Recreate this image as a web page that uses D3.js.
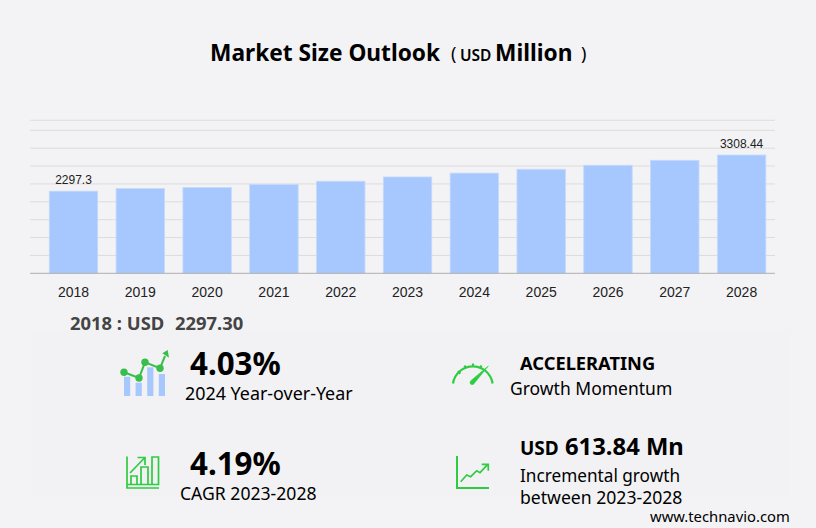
<!DOCTYPE html>
<html lang="en">
<head>
    <meta charset="UTF-8">
    <title>Market Size Outlook</title>
    <script src="https://d3js.org/d3.v7.min.js"></script>
    <style>
        html, body {
            margin: 0;
            padding: 0;
            background: #f3f3f5;
        }
        svg {
            display: block;
        }
        text {
            font-family: "Noto Sans", sans-serif;
            fill: #000;
        }
        .axis-label, .bar-label {
            font-family: "Liberation Sans", Arial, sans-serif;
            fill: #222;
        }
        .icon {
            fill: none;
            stroke: #2ecc40;
        }
    </style>
</head>
<body>
    <svg id="chart" width="816" height="528"></svg>

    <script>
        var years = ["2018", "2019", "2020", "2021", "2022", "2023", "2024", "2025", "2026", "2027", "2028"];
        var marketSize = [2297.3, 2372, 2400, 2483, 2575, 2694.6, 2803, 2910, 3022, 3161, 3308.44];
        var gridValues = [500, 1000, 1500, 2000, 2500, 3000, 3500, 4000, 4280];
        var labelledYears = ["2018", "2028"];

        var svg = d3.select("#chart");

        var x = d3.scaleBand().domain(years).range([40.1, 775]).paddingInner(0.275).paddingOuter(0.1375);
        var y = d3.scaleLinear().domain([0, 4280]).range([273.3, 120.3]);

        // light panel behind the kpis
        svg.append("rect").attr("x", 32).attr("y", 330).attr("width", 758).attr("height", 167).attr("fill", "#f2f2f4");

        function label(x0, y0, size, weight, str) {
            return svg.append("text").attr("x", x0).attr("y", y0).attr("font-size", size).attr("font-weight", weight).text(str);
        }

        // title
        label(210, 61, 22.7, 700, "Market Size Outlook");
        label(451, 60, 18, 400, "(");
        label(460, 60.5, 15.5, 600, "USD");
        label(495, 61, 22.7, 700, "Million");
        label(581, 60, 18, 400, ")");

        // grid
        svg.append("g").selectAll("line")
            .data(gridValues)
            .enter().append("line")
            .attr("x1", 30)
            .attr("x2", 775)
            .attr("y1", function(d) { return y(d); })
            .attr("y2", function(d) { return y(d); })
            .attr("stroke", "#dcdcde");

        // bars
        svg.append("g").selectAll("rect")
            .data(marketSize)
            .enter().append("rect")
            .attr("x", function(d, i) { return x(years[i]); })
            .attr("y", function(d) { return y(d); })
            .attr("width", x.bandwidth())
            .attr("height", function(d) { return y(0) - y(d); })
            .attr("fill", "#a6c8ff")
            .attr("stroke", "#c5d9fb")
            .attr("stroke-width", 0.8);

        // x axis
        var xAxis = svg.append("g")
            .attr("transform", "translate(0," + y(0) + ")")
            .call(d3.axisBottom(x).tickSize(0).tickPadding(10));
        xAxis.select(".domain").remove();
        xAxis.selectAll("text").attr("class", "axis-label").attr("font-size", 14).attr("dy", "0.95em");
        svg.append("line").attr("x1", 30).attr("x2", 775).attr("y1", y(0)).attr("y2", y(0)).attr("stroke", "#b0b0b0");

        // first and last labels
        svg.append("g").selectAll("text")
            .data(labelledYears)
            .enter().append("text")
            .attr("class", "bar-label")
            .attr("x", function(d) { return x(d) + x.bandwidth() / 2; })
            .attr("y", function(d) { return y(marketSize[years.indexOf(d)]) - 7; })
            .attr("text-anchor", "middle")
            .attr("font-size", 12)
            .text(function(d) { return marketSize[years.indexOf(d)]; });

        label(70, 330, 18.4, 700, "2018 : USD").style("fill", "#444");
        label(175, 330, 18.4, 700, "2297.30").style("fill", "#444");

        // kpi texts
        label(190, 375, 31.3, 700, "4.03%");
        label(185, 400, 17.9, 400, "2024 Year-over-Year");
        label(190, 475, 31.3, 700, "4.19%");
        label(180, 500, 17.6, 400, "CAGR 2023-2028");
        label(520, 370, 18.3, 700, "ACCELERATING");
        label(510, 395, 17.5, 400, "Growth Momentum");
        label(520, 455, 19, 700, "USD");
        label(565, 455, 23.8, 700, "613.84 Mn");
        label(520, 482, 17.2, 400, "Incremental growth");
        label(520, 504, 17.6, 400, "between 2023-2028");
        label(650, 522, 14.8, 400, "www.technavio.com");

        // icons
        var barTops = [376.7, 382.7, 367.3, 374];
        var icon1 = svg.append("g");
        icon1.selectAll("rect").data(barTops).enter().append("rect")
            .attr("x", function(d, i) { return 124 + i * 11.6; })
            .attr("y", function(d) { return d; })
            .attr("width", 6.2)
            .attr("height", function(d) { return 396 - d; })
            .attr("fill", "#a6c8ff");
        icon1.append("path").attr("fill", "none").attr("stroke", "#37bf4a").attr("stroke-width", 2)
            .attr("d", "M124 372.3L139 378L145 362.3L160 368.3L165 356");
        icon1.selectAll("circle").data([[124, 372.3], [139, 378], [145, 362.3], [160, 368.3]]).enter().append("circle")
            .attr("cx", function(d) { return d[0]; }).attr("cy", function(d) { return d[1]; }).attr("r", 3.7).attr("fill", "#37bf4a");
        icon1.append("path").attr("d", "M162.3 353.3L167.7 350L169 357.7Z").attr("fill", "#37bf4a");

        svg.append("path").attr("class", "icon").attr("stroke-width", 1.7)
            .attr("d", "M127 456.5V488H159M127 484.5H159M130 473L144 458.5M137.5 457.5H145V465M131 476H137V484.5H131ZM141 467H148V484.5H141ZM152 457H158.5V484.5H152Z");
        svg.append("path").attr("class", "icon").attr("stroke-width", 2.2)
            .attr("d", "M453 383.5A20 20 0 0 1 492.6 383.5M457.5 371.5L460.5 373.5M464.5 365.5L466 368.5M473 363.5V367M481.5 365.5L480 368.5");
        svg.append("path").attr("fill", "#2ecc40").attr("stroke", "#2ecc40").attr("stroke-width", 0.6).attr("stroke-linejoin", "round")
            .attr("d", "M470.5 381L488.3 366L473.5 384.3Q471.7 385 470.5 384Q469.6 382.5 470.5 381Z");
        svg.append("path").attr("class", "icon").attr("stroke-width", 2)
            .attr("d", "M457 456V488H489");
        svg.append("path").attr("class", "icon").attr("stroke-width", 1.7)
            .attr("d", "M460.7 481.7L466.7 475L470.7 476.7L476.7 470.7L480 472.7L487.3 464.8M481.7 464.3H488.3V470.7");
    </script>
</body>
</html>
